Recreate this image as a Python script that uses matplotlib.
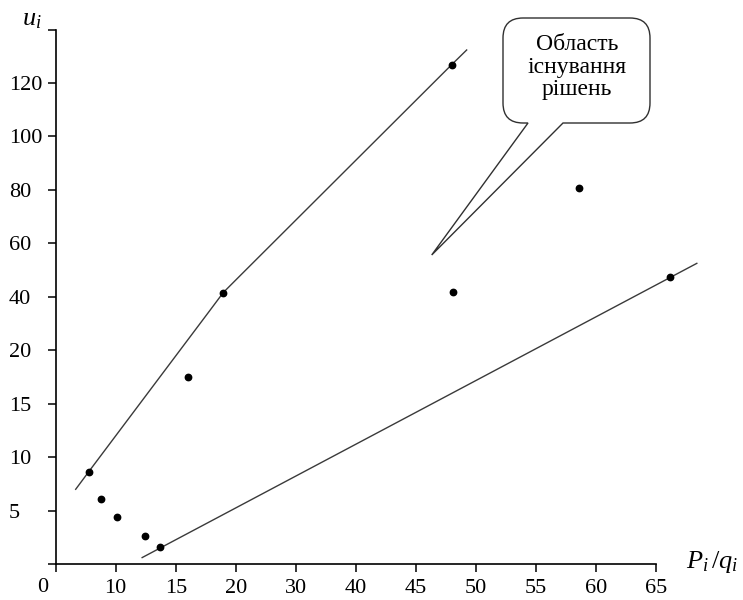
import numpy as np
import matplotlib
matplotlib.use("Agg")
import matplotlib.pyplot as plt
from matplotlib.path import Path
from matplotlib.patches import PathPatch
from matplotlib.transforms import Affine2D

plt.rcParams['font.family'] = ['Liberation Serif', 'DejaVu Serif']
plt.rcParams['mathtext.fontset'] = 'custom'
plt.rcParams['mathtext.rm'] = 'Liberation Serif'
plt.rcParams['mathtext.it'] = 'Liberation Serif:italic'

# ---- axis tick values (evenly spaced on the chart, uneven in value) ----
x_tick_values = [0, 10, 15, 20, 30, 40, 45, 50, 55, 60, 65]
x_tick_labels = ['', '10', '15', '20', '30', '40', '45', '50', '55', '60', '65']
y_tick_values = [0, 5, 10, 15, 20, 40, 60, 80, 100, 120, 140]
y_tick_labels = ['', '5', '10', '15', '20', '40', '60', '80', '100', '120', '']

# ---- data points ----
point_x = [5.5, 7.5, 10.1, 12.4, 13.7, 16.0, 18.96, 47.97, 48.1, 58.6, 66.2]
point_y = [8.63, 6.1, 4.4, 2.6, 1.6, 17.5, 41.59, 126.79, 41.6, 80.8, 47.5]

# upper boundary curve
upper_x = [3.33, 5.50, 13.44, 17.69, 18.96, 20.70, 36.53, 47.97, 49.23]
upper_y = [6.99, 8.63, 17.14, 33.96, 41.59, 47.84, 83.31, 126.79, 132.33]

# lower boundary line
lower_x = [12.2, 68.4]
lower_y = [0.6, 52.5]

callout_text = 'Область\nіснування\nрішень'

# ---- piecewise scales built from the tick values ----
xv = np.array([-10.0] + x_tick_values + [70, 75], dtype=float)
xi = np.arange(-1, len(x_tick_values) + 2, dtype=float)
yv = np.array([-5.0] + y_tick_values + [160, 180], dtype=float)
yi = np.arange(-1, len(y_tick_values) + 2, dtype=float)

def fx(v):
    return np.interp(v, xv, xi)
def fx_inv(p):
    return np.interp(p, xi, xv)
def fy(v):
    return np.interp(v, yv, yi)
def fy_inv(p):
    return np.interp(p, yi, yv)

W, H = 743, 600
fig = plt.figure(figsize=(W / 100, H / 100), dpi=100)
ax_left, ax_bottom = 55.7 / W, 1 - 564 / H
ax = fig.add_axes([ax_left, ax_bottom, 11 * 60.03 / W, 10 * 53.45 / H])
ax.set_xscale('function', functions=(fx, fx_inv))
ax.set_yscale('function', functions=(fy, fy_inv))
ax.set_xlim(0, 70)
ax.set_ylim(0, 140)

line_col = '#3a3a3a'
ax.plot(upper_x, upper_y, color=line_col, lw=1.0, clip_on=False, zorder=2)
ax.plot(lower_x, lower_y, color=line_col, lw=1.0, clip_on=False, zorder=2)
ax.plot(point_x, point_y, 'o', color='black', ms=4.6, clip_on=False, zorder=3)

for s in ['top', 'right']:
    ax.spines[s].set_visible(False)
ax.spines['left'].set_bounds(0, 140)
ax.spines['bottom'].set_bounds(0, 65)
for s in ['left', 'bottom']:
    ax.spines[s].set_linewidth(1.2)
    ax.spines[s].set_color('black')

ax.set_xticks(x_tick_values)
ax.set_xticklabels(x_tick_labels)
ax.set_yticks(y_tick_values)
ax.set_yticklabels(y_tick_labels)
ax.minorticks_off()
ax.tick_params(axis='both', direction='out', length=5.8, width=1.1,
               labelsize=16, colors='black')
ax.tick_params(axis='x', pad=5)
ax.tick_params(axis='y', pad=27.9)
for lab in ax.get_yticklabels():
    lab.set_horizontalalignment('left')

# origin label
fig.text(43 / W, 1 - 587 / H, '0', ha='center', va='center', fontsize=16)

# axis titles
fig.text(22 / W, 1 - 20 / H, r'$u_i$', ha='left', va='center', fontsize=19)
fig.text(686 / W, 1 - 562 / H, r'$P_i\,/q_i$', ha='left', va='center', fontsize=19)

# ---- callout ----
L, R, T, B, r = 503, 650, 18, 123, 20
bl, br = 528, 563
tip = (431.7, 255)
verts = [(br, B), (R - r, B), (R, B), (R, B - r), (R, T + r), (R, T), (R - r, T),
         (L + r, T), (L, T), (L, T + r), (L, B - r), (L, B), (L + r, B),
         (bl, B), tip, (br, B)]
codes = [Path.MOVETO, Path.LINETO, Path.CURVE3, Path.CURVE3, Path.LINETO,
         Path.CURVE3, Path.CURVE3, Path.LINETO, Path.CURVE3, Path.CURVE3,
         Path.LINETO, Path.CURVE3, Path.CURVE3, Path.LINETO, Path.LINETO,
         Path.CLOSEPOLY]
to_fig = Affine2D().scale(1 / W, -1 / H).translate(0, 1) + fig.transFigure
patch = PathPatch(Path(verts, codes), facecolor='white', edgecolor='#303030',
                  lw=1.0, transform=to_fig, zorder=5)
fig.add_artist(patch)
fig.text(577 / W, 1 - 67 / H, callout_text, ha='center', va='center',
         multialignment='center', fontsize=17, linespacing=1.12, zorder=6)

fig.savefig('out.png', dpi=100)
